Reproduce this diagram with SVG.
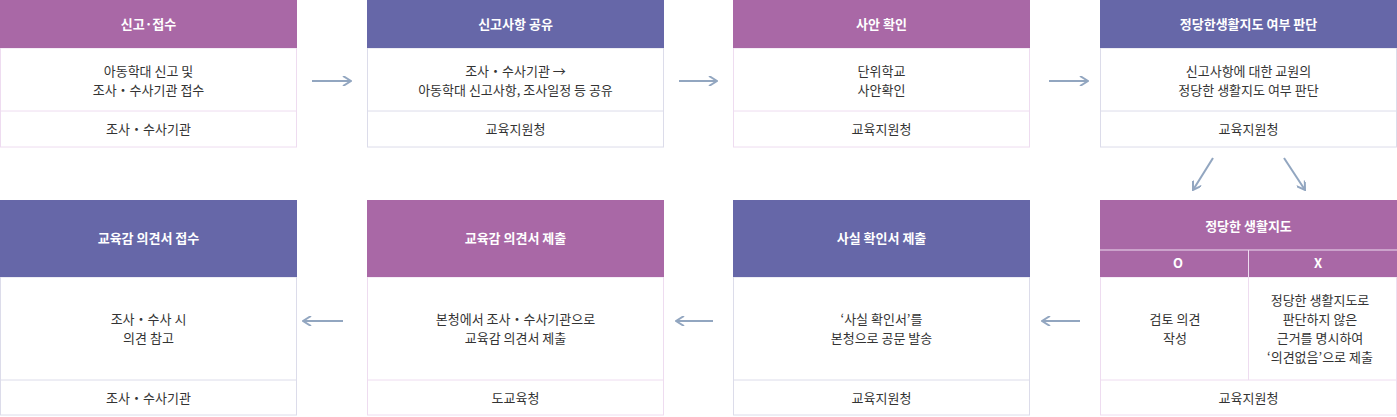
<svg xmlns="http://www.w3.org/2000/svg" width="1397" height="417" viewBox="0 0 1397 417">
<style>
text{font-family:"Noto Sans CJK KR","Noto Sans",sans-serif;font-size:13px;fill:#333;text-anchor:middle}
.h{fill:#fff;font-weight:bold}
.p{fill:#a968a6}.b{fill:#6667a8}
.bp{fill:#fff;stroke:#eedcf0;stroke-width:1}
.bb{fill:#fff;stroke:#dcdcea;stroke-width:1}
.ar{stroke:#92a6c0;stroke-width:2;fill:none}
</style>
<defs><marker id="m" viewBox="0 0 10 10" refX="9" refY="5" markerWidth="10" markerHeight="10" markerUnits="userSpaceOnUse" orient="auto"><path d="M1,0 L9,5 L1,10" fill="none" stroke="#92a6c0" stroke-width="2"/></marker></defs>
<g id="n1"><rect class="bp" x="0.5" y="48" width="296" height="99"/><line x1="0" y1="111" x2="297" y2="111" stroke="#eedcf0"/><rect class="p" x="0" y="0" width="297" height="48"/><text class="h" x="148.5" y="29">신고·접수</text><text x="148.5" y="76">아동학대 신고 및</text><text x="148.5" y="95">조사・수사기관 접수</text><text x="148.5" y="134">조사・수사기관</text></g>
<g id="n2"><rect class="bb" x="367.5" y="48" width="296" height="99"/><line x1="367" y1="111" x2="664" y2="111" stroke="#dcdcea"/><rect class="b" x="367" y="0" width="297" height="48"/><text class="h" x="515.5" y="29">신고사항 공유</text><text x="515.5" y="76">조사・수사기관 →</text><text x="515.5" y="95">아동학대 신고사항, 조사일정 등 공유</text><text x="515.5" y="134">교육지원청</text></g>
<g id="n3"><rect class="bp" x="733.5" y="48" width="296" height="99"/><line x1="733" y1="111" x2="1030" y2="111" stroke="#eedcf0"/><rect class="p" x="733" y="0" width="297" height="48"/><text class="h" x="881.5" y="29">사안 확인</text><text x="881.5" y="76">단위학교</text><text x="881.5" y="95">사안확인</text><text x="881.5" y="134">교육지원청</text></g>
<g id="n4"><rect class="bb" x="1100.5" y="48" width="296" height="99"/><line x1="1100" y1="111" x2="1397" y2="111" stroke="#dcdcea"/><rect class="b" x="1100" y="0" width="297" height="48"/><text class="h" x="1248.5" y="29">정당한생활지도 여부 판단</text><text x="1248.5" y="76">신고사항에 대한 교원의</text><text x="1248.5" y="95">정당한 생활지도 여부 판단</text><text x="1248.5" y="134">교육지원청</text></g>
<g id="n5"><rect class="bp" x="1100.5" y="277" width="296" height="138"/><line x1="1100" y1="380" x2="1397" y2="380" stroke="#eedcf0"/><line x1="1248.5" y1="277" x2="1248.5" y2="380" stroke="#eedcf0"/><rect class="p" x="1100" y="200" width="297" height="77"/><line x1="1100" y1="250" x2="1397" y2="250" stroke="#eedcf0"/><line x1="1248.5" y1="250" x2="1248.5" y2="277" stroke="#eedcf0"/><text class="h" x="1248.5" y="231">정당한 생활지도</text><text class="h" x="1178" y="268">O</text><text class="h" x="1318" y="268">X</text><text x="1175" y="324">검토 의견</text><text x="1175" y="343">작성</text><text x="1320" y="305">정당한 생활지도로</text><text x="1320" y="324">판단하지 않은</text><text x="1320" y="343">근거를 명시하여</text><text x="1320" y="362">‘의견없음’으로 제출</text><text x="1248.5" y="403">교육지원청</text></g>
<g id="n6"><rect class="bb" x="733.5" y="277" width="296" height="138"/><line x1="733" y1="380" x2="1030" y2="380" stroke="#dcdcea"/><rect class="b" x="733" y="200" width="297" height="77"/><text class="h" x="881.5" y="243">사실 확인서 제출</text><text x="881.5" y="324">‘사실 확인서’를</text><text x="881.5" y="343">본청으로 공문 발송</text><text x="881.5" y="403">교육지원청</text></g>
<g id="n7"><rect class="bp" x="367.5" y="277" width="296" height="138"/><line x1="367" y1="380" x2="664" y2="380" stroke="#eedcf0"/><rect class="p" x="367" y="200" width="297" height="77"/><text class="h" x="515.5" y="243">교육감 의견서 제출</text><text x="515.5" y="324">본청에서 조사・수사기관으로</text><text x="515.5" y="343">교육감 의견서 제출</text><text x="515.5" y="403">도교육청</text></g>
<g id="n8"><rect class="bb" x="0.5" y="277" width="296" height="138"/><line x1="0" y1="380" x2="297" y2="380" stroke="#dcdcea"/><rect class="b" x="0" y="200" width="297" height="77"/><text class="h" x="148.5" y="243">교육감 의견서 접수</text><text x="148.5" y="324">조사・수사 시</text><text x="148.5" y="343">의견 참고</text><text x="148.5" y="403">조사・수사기관</text></g>
<g id="connectors">
<line class="ar" x1="312" y1="81" x2="351" y2="81" marker-end="url(#m)"/>
<line class="ar" x1="679" y1="81" x2="717" y2="81" marker-end="url(#m)"/>
<line class="ar" x1="1049" y1="81" x2="1088" y2="81" marker-end="url(#m)"/>
<line class="ar" x1="1213" y1="158" x2="1193" y2="190" marker-end="url(#m)"/>
<line class="ar" x1="1284" y1="158" x2="1305" y2="190" marker-end="url(#m)"/>
<line class="ar" x1="1080" y1="321" x2="1042" y2="321" marker-end="url(#m)"/>
<line class="ar" x1="713" y1="321" x2="676" y2="321" marker-end="url(#m)"/>
<line class="ar" x1="343" y1="321" x2="303" y2="321" marker-end="url(#m)"/>
</g>
</svg>
